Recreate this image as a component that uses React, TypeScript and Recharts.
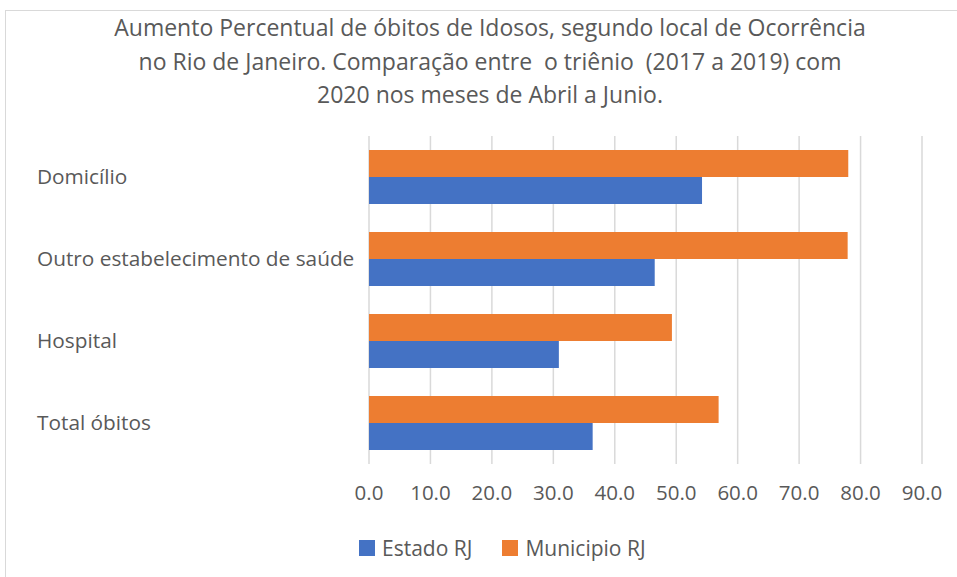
import React from "react";
import { BarChart, Bar, XAxis, YAxis, CartesianGrid } from "recharts";

const categories = ["Domicílio", "Outro estabelecimento de saúde", "Hospital", "Total óbitos"];
const estadoRJ = [54.2, 46.5, 30.9, 36.4];
const municipioRJ = [78.0, 77.9, 49.3, 56.9];
const xTicks = [0, 10, 20, 30, 40, 50, 60, 70, 80, 90];
const titleLines = [
  "Aumento Percentual de óbitos de Idosos, segundo local de Ocorrência",
  "no Rio de Janeiro. Comparação entre  o triênio  (2017 a 2019) com",
  "2020 nos meses de Abril a Junio.",
];
const seriesNames = { estado: "Estado RJ", municipio: "Municipio RJ" };

const BLUE = "#4472C4";
const ORANGE = "#ED7D31";
const TEXT = "#595959";
const FONT = "'Open Sans', 'Noto Sans', sans-serif";

const data = categories.map((c, i) => ({
  name: c,
  estado: estadoRJ[i],
  municipio: municipioRJ[i],
}));

const YTick = (props: any) => {
  const { y, payload } = props;
  return (
    <text x={37} y={y} dy={7} textAnchor="start" fill={TEXT} fontSize={20.8} fontFamily={FONT}>
      {payload.value}
    </text>
  );
};

const legendItems = [
  { label: seriesNames.estado, color: BLUE },
  { label: seriesNames.municipio, color: ORANGE },
];

export default function App() {
  return (
    <div
      style={{
        position: "absolute",
        left: 0,
        top: 0,
        width: 957,
        height: 577,
        background: "#fff",
        fontFamily: FONT,
        overflow: "hidden",
      }}
    >
      <div
        style={{
          position: "absolute",
          left: 5,
          top: 10,
          width: 960,
          height: 580,
          border: "1px solid #d9d9d9",
          boxSizing: "border-box",
        }}
      />
      <div
        style={{
          position: "absolute",
          top: 11,
          left: 0,
          width: 980,
          textAlign: "center",
          color: TEXT,
          fontSize: 23,
          lineHeight: "33.5px",
          fontFamily: FONT,
        }}
      >
        {titleLines.map((l) => (
          <div key={l} style={{ whiteSpace: "pre" }}>{l}</div>
        ))}
      </div>
      <div style={{ position: "absolute", left: 0, top: 0 }}>
        <BarChart
          width={957}
          height={577}
          data={data}
          layout="vertical"
          margin={{ top: 136, right: 35, left: 0, bottom: 53 }}
          barGap={0}
          barCategoryGap="17%"
        >
          <CartesianGrid horizontal={false} stroke="#d9d9d9" strokeWidth={1.5} />
          <XAxis
            type="number"
            domain={[0, 90]}
            ticks={xTicks}
            interval={0}
            axisLine={false}
            tickLine={false}
            tickMargin={15}
            height={60}
            tickFormatter={(v: number) => v.toFixed(1)}
            tick={{ fill: TEXT, fontSize: 20.5, fontFamily: FONT }}
          />
          <YAxis
            type="category"
            dataKey="name"
            width={369}
            axisLine={false}
            tickLine={false}
            tick={<YTick />}
          />
          <Bar dataKey="municipio" name={seriesNames.municipio} fill={ORANGE} isAnimationActive={false} />
          <Bar dataKey="estado" name={seriesNames.estado} fill={BLUE} isAnimationActive={false} />
        </BarChart>
      </div>
      <div
        style={{
          position: "absolute",
          top: 534,
          left: 359,
          height: 28,
          display: "flex",
          alignItems: "center",
          fontFamily: FONT,
          fontSize: 21,
          color: TEXT,
        }}
      >
        {legendItems.map((it, i) => (
          <div key={it.label} style={{ display: "flex", alignItems: "center", marginRight: i === 0 ? 30 : 0 }}>
            <span style={{ display: "inline-block", width: 16, height: 16, background: it.color, marginRight: 7 }} />
            <span>{it.label}</span>
          </div>
        ))}
      </div>
    </div>
  );
}
